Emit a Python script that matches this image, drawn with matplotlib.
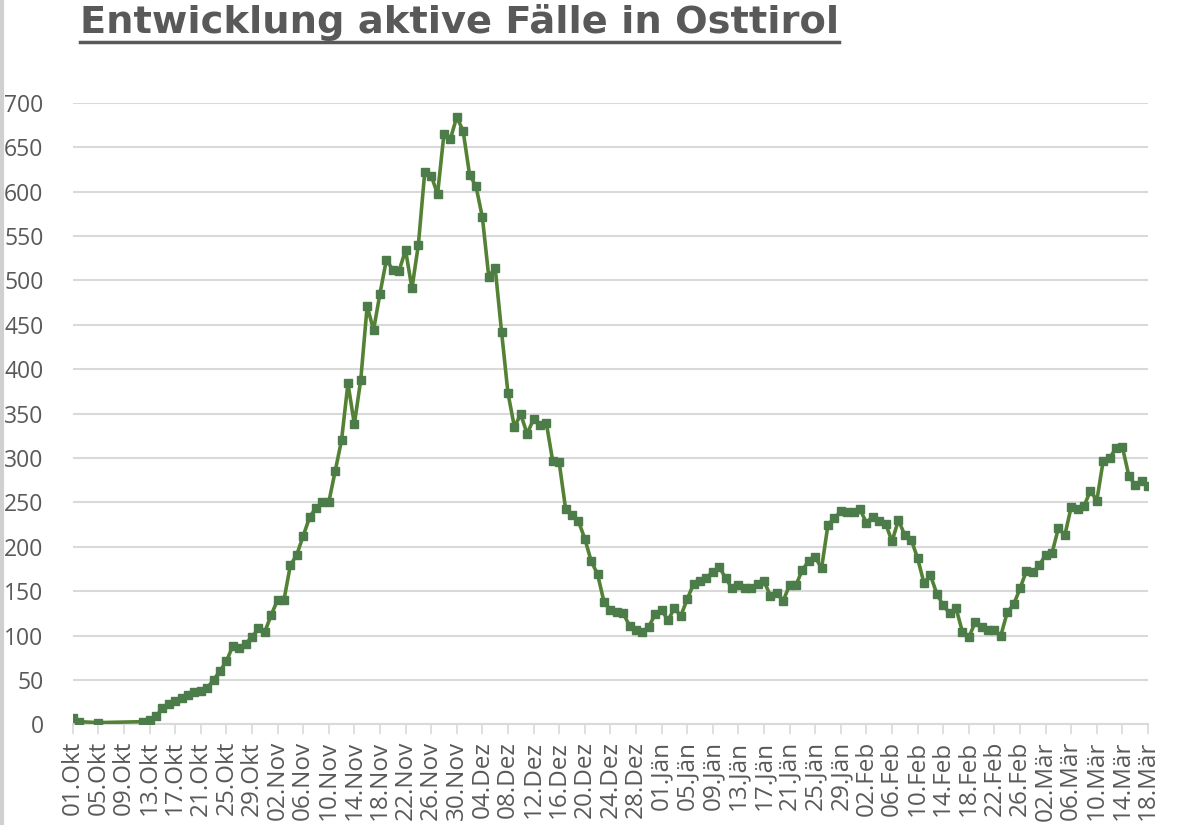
import matplotlib.pyplot as plt
from matplotlib.lines import Line2D
import numpy as np
import pandas as pd

# active cases per day, 01.Okt 2020 .. 18.Mär 2021 (None = no report)
OKT = [7, 3, None, None, 2, None, None, None, None, None, None, 3, 5, 9, 18,
       23, 26, 30, 33, 36, 38, 41, 50, 60, 71, 88, 86, 91, 98, 108, 104]
NOV = [123, 140, 140, 179, 191, 212, 233, 244, 250, 250, 285, 320, 384, 338, 388,
       471, 444, 485, 523, 512, 511, 534, 491, 540, 622, 618, 597, 665, 659, 684]
DEZ = [668, 619, 606, 571, 504, 514, 442, 373, 335, 349, 327, 344, 337, 339, 296,
       295, 243, 236, 229, 209, 184, 169, 138, 129, 126, 125, 111, 106, 104, 110, 124]
JAN = [129, 117, 131, 122, 141, 158, 161, 165, 172, 177, 165, 153, 157, 154, 153,
       158, 161, 145, 148, 139, 157, 157, 174, 184, 188, 176, 225, 232, 240, 239, 239]
FEB = [242, 227, 234, 229, 226, 206, 230, 213, 208, 187, 159, 168, 147, 134, 125,
       131, 104, 98, 115, 110, 106, 106, 100, 126, 135, 153, 173, 171]
MAR = [179, 191, 193, 221, 213, 245, 242, 246, 263, 252, 297, 300, 311, 312, 280,
       269, 274, 268]

MONTHS_DE = {10: "Okt", 11: "Nov", 12: "Dez", 1: "Jän", 2: "Feb", 3: "Mär"}
TITLE = "Entwicklung aktive Fälle in Osttirol"

GREY = "#595959"
GRID = "#d9d9d9"

values = np.array([np.nan if v is None else v for v in OKT + NOV + DEZ + JAN + FEB + MAR],
                  dtype=float)
dates = pd.date_range("2020-10-01", periods=len(values), freq="D")
x = np.arange(len(values))
ok = ~np.isnan(values)

fig = plt.figure(figsize=(12, 8.25), dpi=100)
ax = fig.add_axes([0.0606, 0.122, 0.8961, 0.7535])

ax.plot(x[ok], values[ok], color="#548235", linewidth=2.6, marker="s",
        markersize=5.5, markerfacecolor="#4d7c4b", markeredgecolor="#4d7c4b",
        zorder=3)

ax.set_xlim(0, len(values) - 1)
ax.set_ylim(0, 700)
ax.set_yticks(np.arange(0, 701, 50))
ax.yaxis.grid(True, color=GRID, linewidth=1.5)
ax.set_axisbelow(True)

tick_idx = x[::4]
ax.set_xticks(tick_idx)
ax.set_xticklabels([f"{dates[i].day:02d}.{MONTHS_DE[dates[i].month]}" for i in tick_idx],
                   rotation=90)

for s in ["top", "right", "left"]:
    ax.spines[s].set_visible(False)
ax.spines["bottom"].set_color(GRID)
ax.spines["bottom"].set_linewidth(1.5)

ax.tick_params(axis="y", length=0, pad=21, labelsize=16.5, labelcolor=GREY)
ax.tick_params(axis="x", length=7, width=1.2, color=GRID, pad=5,
               labelsize=17.5, labelcolor=GREY)
for lab in ax.get_xticklabels() + ax.get_yticklabels():
    lab.set_fontfamily(["Open Sans", "DejaVu Sans"])

title = fig.text(0.0667, 0.9595, TITLE, fontsize=27.6, fontweight="bold", color=GREY,
                 family=["DejaVu Sans"], ha="left", va="baseline")

# underline the title
fig.canvas.draw()
bb = title.get_window_extent().transformed(fig.transFigure.inverted())
fig.add_artist(Line2D([bb.x0, bb.x1], [0.949, 0.949], color=GREY, linewidth=2.5))

# thin frame on the left border
fig.add_artist(Line2D([0.0015, 0.0015], [0, 1], color="#d0d0d0", linewidth=3))

fig.savefig("out.png", dpi=100)
